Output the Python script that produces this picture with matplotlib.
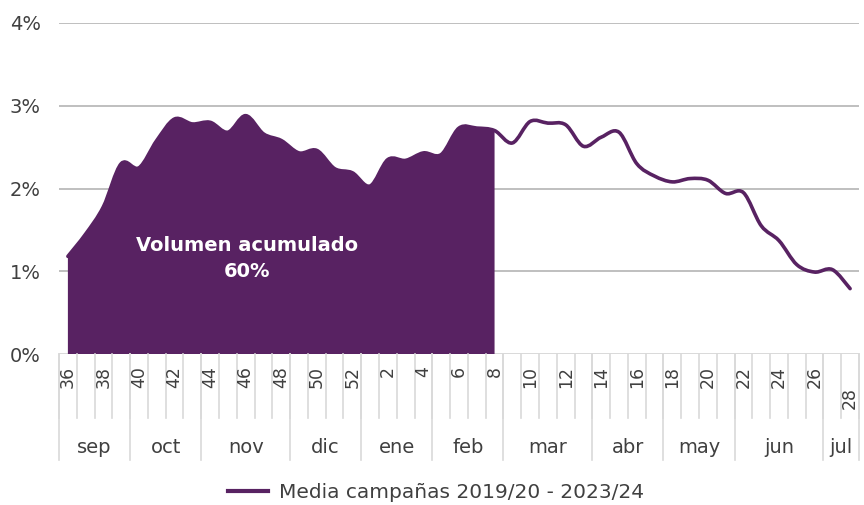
import matplotlib
matplotlib.use('Agg')
import matplotlib.pyplot as plt
import matplotlib.transforms as mtransforms
from matplotlib.path import Path
from matplotlib.patches import PathPatch
from matplotlib.lines import Line2D

# ---------------- data ----------------
weeks = [36, 37, 38, 39, 40, 41, 42, 43, 44, 45, 46, 47, 48, 49, 50, 51, 52,
         1, 2, 3, 4, 5, 6, 7, 8, 9, 10, 11, 12, 13, 14, 15, 16, 17, 18, 19, 20,
         21, 22, 23, 24, 25, 26, 27, 28]
values = [1.18, 1.45, 1.78, 2.30, 2.25, 2.58, 2.84, 2.78, 2.80, 2.68, 2.88, 2.66,
          2.58, 2.43, 2.46, 2.24, 2.19, 2.03, 2.35, 2.34, 2.43, 2.41, 2.73, 2.73,
          2.70, 2.55, 2.81, 2.79, 2.77, 2.51, 2.62, 2.68, 2.30, 2.15, 2.08, 2.12,
          2.10, 1.94, 1.95, 1.55, 1.37, 1.08, 0.99, 1.02, 0.79]
area_last_week = 8
months = ['sep', 'oct', 'nov', 'dic', 'ene', 'feb', 'mar', 'abr', 'may', 'jun', 'jul']
month_weeks = [4, 4, 5, 4, 4, 4, 5, 4, 4, 5, 2]
y_ticks = [0, 1, 2, 3, 4]
legend_label = 'Media campañas 2019/20 - 2023/24'
annotation = 'Volumen acumulado\n60%'

PURPLE = '#582262'
TXT = '#404040'
GRID = '#bfbfbf'
DIV = '#d9d9d9'

plt.rcParams['font.family'] = ['DejaVu Sans']


def smooth_path(x, y):
    verts = [(x[0], y[0])]
    codes = [Path.MOVETO]
    n = len(x)
    for i in range(n - 1):
        p0 = i - 1 if i > 0 else i
        p3 = i + 2 if i + 2 < n else i + 1
        c1 = (x[i] + (x[i + 1] - x[p0]) / 6.0, y[i] + (y[i + 1] - y[p0]) / 6.0)
        c2 = (x[i + 1] - (x[p3] - x[i]) / 6.0, y[i + 1] - (y[p3] - y[i]) / 6.0)
        verts += [c1, c2, (x[i + 1], y[i + 1])]
        codes += [Path.CURVE4] * 3
    return verts, codes


fig = plt.figure(figsize=(8.64, 5.05), dpi=100)
ax = fig.add_axes([59 / 864, 151 / 505, 800 / 864, 331 / 505])
ax.set_xlim(0, len(weeks))
ax.set_ylim(0, 4)

xs = [i + 0.5 for i in range(len(weeks))]

# grid
for v in y_ticks[1:]:
    ax.axhline(v, color=GRID, lw=1.4, zorder=1)
ax.axhline(0, color=DIV, lw=1.4, zorder=1)

# area
k = weeks.index(area_last_week) + 1
verts, codes = smooth_path(xs[:k], values[:k])
verts += [(xs[k - 1], 0), (xs[0], 0), (xs[0], 0)]
codes += [Path.LINETO, Path.LINETO, Path.CLOSEPOLY]
ax.add_patch(PathPatch(Path(verts, codes), facecolor=PURPLE, edgecolor='none', zorder=2))

# line
verts, codes = smooth_path(xs, values)
ax.add_patch(PathPatch(Path(verts, codes), facecolor='none', edgecolor=PURPLE,
                       lw=2.6, capstyle='round', joinstyle='round', zorder=3))

# annotation
ax.text(10.6, 1.15, annotation, color='white', fontsize=14, fontweight='bold',
        ha='center', va='center', linespacing=1.45, zorder=4)

# axes styling
for s in ax.spines.values():
    s.set_visible(False)
ax.set_xticks([])
ax.set_yticks(y_ticks)
ax.set_yticklabels([f'{v}%' for v in y_ticks], fontsize=14, color=TXT)
ax.tick_params(axis='y', length=0, pad=13)

trans = mtransforms.blended_transform_factory(ax.transData, ax.transAxes)

# week dividers
for i in range(len(weeks) + 1):
    ax.plot([i, i], [0, -0.193], color=DIV, lw=1.2, transform=trans, clip_on=False)

# week labels (even weeks)
for i, w in enumerate(weeks):
    if w % 2 == 0:
        yy = -0.036 if w != weeks[-1] else -0.10
        ax.text(xs[i], yy, str(w), rotation=90, ha='center', va='top',
                fontsize=12.5, color=TXT, transform=trans)

# month dividers and labels
pos = 0
ax.plot([0, 0], [0, -0.32], color=DIV, lw=1.2, transform=trans, clip_on=False)
for m, n in zip(months, month_weeks):
    ax.text(pos + n / 2.0, -0.281, m, ha='center', va='center', fontsize=14,
            color=TXT, transform=trans)
    pos += n
    ax.plot([pos, pos], [0, -0.32], color=DIV, lw=1.2, transform=trans, clip_on=False)

# legend
fig.legend(handles=[Line2D([], [], color=PURPLE, lw=3)], labels=[legend_label],
           loc='center', bbox_to_anchor=(436 / 864, 1 - 493 / 505), frameon=False,
           fontsize=14.5, handlelength=2.0, handletextpad=0.55, labelcolor=TXT)

fig.savefig('out.png', dpi=100)
